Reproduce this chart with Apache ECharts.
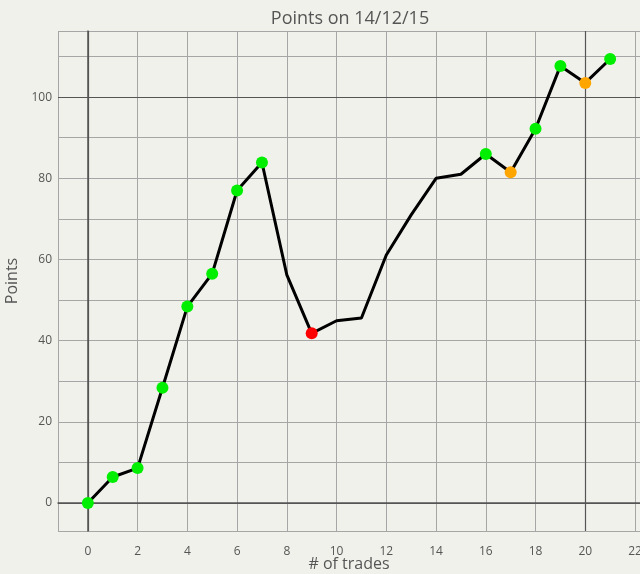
<!DOCTYPE html>
<html>
<head>
<meta charset="utf-8">
<script src="https://cdn.jsdelivr.net/npm/echarts@6/dist/echarts.min.js"></script>
<style>
  html, body { margin: 0; padding: 0; background: #f1f1ec; }
  #chart { width: 640px; height: 574px; }
</style>
</head>
<body>
<div id="chart"></div>
<script>
// trade number and cumulative points
var trades = [0, 1, 2, 3, 4, 5, 6, 7, 8, 9, 10, 11, 12, 13, 14, 15, 16, 17, 18, 19, 20, 21];
var points = [0, 6.4, 8.6, 28.4, 48.4, 56.5, 77.0, 83.9, 56.2, 41.8, 44.9, 45.6, 61.1, 71.0, 80.0, 81.0, 86.0, 81.5, 92.2, 107.7, 103.5, 109.4];
// marker colour per trade, null = no marker
var markers = ['#00ee00', '#00ee00', '#00ee00', '#00ee00', '#00ee00', '#00ee00', '#00ee00', '#00ee00',
  null, '#ff0000', null, null, null, null, null, null,
  '#00ee00', '#ffa500', '#00ee00', '#00ee00', '#ffa500', '#00ee00'];
var yLabels = [0, 20, 40, 60, 80, 100];
// darker reference lines
var darkX = [0, 20];
var darkY = [0, 100];

var textColor = '#555';
var font = 'Open Sans';

var myChart = echarts.init(document.getElementById('chart'));

var data = trades.map(function (t, i) {
  var c = markers[i];
  return {
    value: [t, points[i]],
    symbol: c ? 'circle' : 'none',
    itemStyle: { color: c || '#000' }
  };
});

var refLines = darkX.map(function (v) { return { xAxis: v }; })
  .concat(darkY.map(function (v) { return { yAxis: v }; }));

var option = {
  backgroundColor: '#f1f1ec',
  animation: false,
  title: {
    text: 'Points on 14/12/15',
    left: 345,
    textAlign: 'center',
    top: 5,
    textStyle: { color: textColor, fontSize: 18, fontWeight: 'normal', fontFamily: font }
  },
  grid: { left: 58, right: 0, top: 31, bottom: 43, containLabel: false, outerBoundsMode: 'none' },
  xAxis: {
    type: 'value',
    min: -1.2,
    max: 22.2,
    splitNumber: 12,
    name: '# of trades',
    nameLocation: 'middle',
    nameGap: 25,
    nameMoveOverlap: false,
    nameTextStyle: { color: textColor, fontSize: 16, fontFamily: font },
    axisLine: { show: true, lineStyle: { color: '#555', width: 1.5 } },
    axisTick: { show: false },
    axisLabel: { color: textColor, fontSize: 12, fontFamily: font, margin: 15, showMinLabel: false, showMaxLabel: false },
    splitLine: { show: true, lineStyle: { color: '#a6a6a6', width: 1 } }
  },
  yAxis: {
    type: 'value',
    min: -6.9,
    max: 116.3,
    splitNumber: 12,
    name: 'Points',
    nameLocation: 'middle',
    nameGap: 38,
    nameMoveOverlap: false,
    nameTextStyle: { color: textColor, fontSize: 16, fontFamily: font },
    axisLine: { show: true, lineStyle: { color: '#555', width: 1.5 } },
    axisTick: { show: false },
    axisLabel: {
      color: textColor, fontSize: 12, fontFamily: font, margin: 6,
      showMinLabel: false, showMaxLabel: false,
      formatter: function (v) { return yLabels.indexOf(v) >= 0 ? String(v) : ''; }
    },
    splitLine: { show: true, lineStyle: { color: '#a6a6a6', width: 1 } }
  },
  series: [
    {
      type: 'line',
      data: [],
      z: 1,
      silent: true,
      markLine: {
        silent: true,
        symbol: 'none',
        label: { show: false },
        lineStyle: { color: '#555', type: 'solid', width: 1.2 },
        data: refLines
      }
    },
    {
      type: 'line',
      data: data,
      z: 5,
      symbolSize: 12,
      lineStyle: { color: '#000', width: 3 }
    }
  ]
};

myChart.setOption(option);
</script>
</body>
</html>
